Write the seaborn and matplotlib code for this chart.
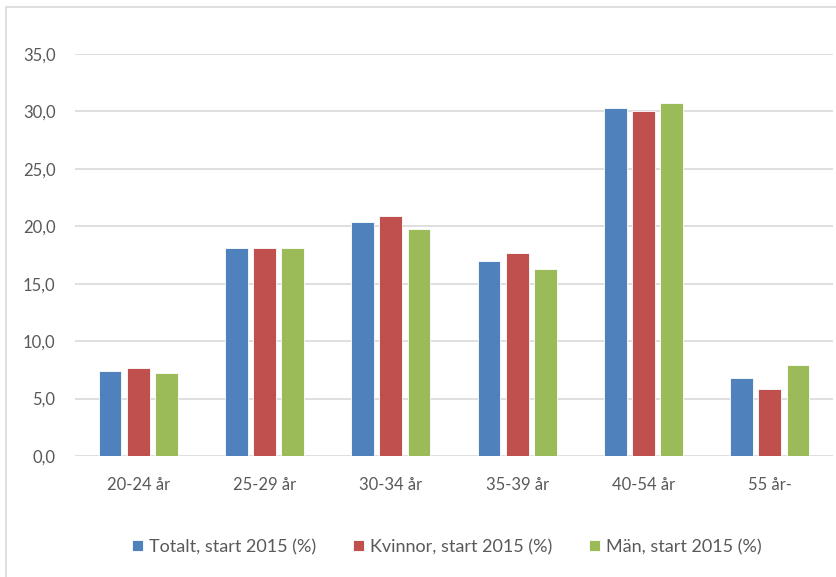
import pandas as pd
import matplotlib.pyplot as plt
import seaborn as sns
from matplotlib.ticker import FuncFormatter, MultipleLocator
from matplotlib.patches import Rectangle

# Data
age_groups = ["20-24 år", "25-29 år", "30-34 år", "35-39 år", "40-54 år", "55 år-"]
series = ["Totalt, start 2015 (%)", "Kvinnor, start 2015 (%)", "Män, start 2015 (%)"]
totalt = [7.4, 18.1, 20.4, 17.0, 30.3, 6.8]
kvinnor = [7.7, 18.1, 20.9, 17.7, 30.0, 5.8]
man = [7.2, 18.1, 19.8, 16.3, 30.7, 7.9]
colors = ["#4F81BD", "#C0504D", "#9BBB59"]

df = pd.DataFrame({
    "Ålder": age_groups * 3,
    "Serie": [series[0]] * 6 + [series[1]] * 6 + [series[2]] * 6,
    "Andel": totalt + kvinnor + man,
})

sns.set_theme(style="white")
plt.rcParams["font.family"] = ["Lato", "DejaVu Sans"]
text_color = "#595959"
grid_color = "#D9D9D9"

fig = plt.figure(figsize=(8.36, 5.77), dpi=100)
ax = fig.add_axes([75 / 836, 1 - 456 / 577, 758 / 836, 402 / 577])

sns.barplot(data=df, x="Ålder", y="Andel", hue="Serie", order=age_groups,
            hue_order=series, palette=colors, width=0.67, gap=0.19,
            saturation=1, edgecolor="white", linewidth=0.6, ax=ax)

ax.set_ylim(0, 35)
ax.yaxis.set_major_locator(MultipleLocator(5))
ax.yaxis.set_major_formatter(FuncFormatter(lambda v, p: f"{v:.1f}".replace(".", ",")))
ax.grid(axis="y", color=grid_color, linewidth=1.2)
ax.set_axisbelow(True)
for s in ax.spines.values():
    s.set_visible(False)
ax.set_xlabel("")
ax.set_ylabel("")
ax.tick_params(axis="both", length=0, labelsize=12, colors=text_color)
ax.tick_params(axis="x", pad=15)
ax.tick_params(axis="y", pad=14)

handles, labels = ax.get_legend_handles_labels()
ax.get_legend().remove()
fig.legend(handles, labels, loc="center", bbox_to_anchor=(447 / 836, 1 - 547 / 577),
           ncol=3, frameon=False, fontsize=13, labelcolor=text_color,
           handlelength=0.6, handleheight=0.6, handletextpad=0.33, columnspacing=2.05)

# light frame around the chart area
fig.add_artist(Rectangle((6 / 836, -0.1), 1.0, 1 - 7 / 577 + 0.1, transform=fig.transFigure,
                         fill=False, edgecolor=grid_color, linewidth=1.2, clip_on=False))

fig.savefig("out.png", dpi=100)
